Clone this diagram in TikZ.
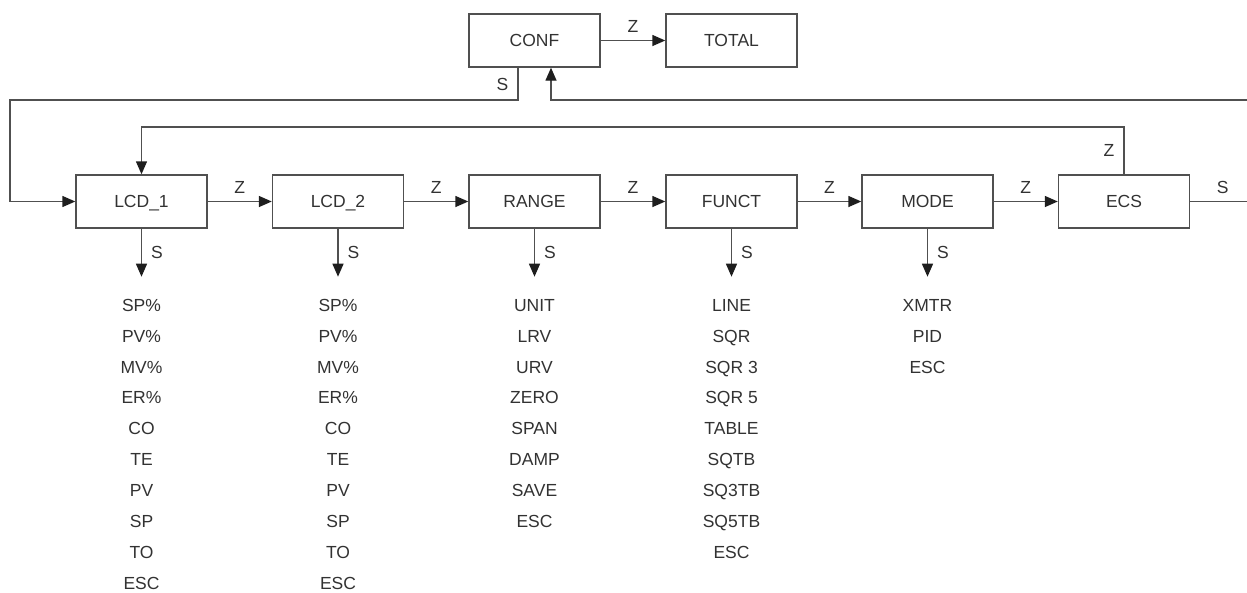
\documentclass[tikz,border=0pt]{standalone}
\usepackage{fontspec}
\setmainfont{Liberation Sans}
\usetikzlibrary{arrows.meta}
\definecolor{linec}{RGB}{80,80,80}
\definecolor{textc}{RGB}{50,50,50}
\definecolor{tipc}{RGB}{30,30,30}
\begin{document}
\begin{tikzpicture}[x=1pt,y=-1pt,
  txt/.style={text=textc, font=\fontsize{17.5}{20}\selectfont, inner sep=0pt, text height=12.5pt, text depth=0pt},
  box/.style={txt, draw=linec, line width=1.4pt, minimum width=131pt, minimum height=53pt},
  conn/.style={draw=linec, line width=1.4pt, -{Triangle[length=13pt,width=11pt,color=tipc]}},
  wire/.style={draw=linec, line width=1.4pt}]
\useasboundingbox (0,0) rectangle (1247,592);
% top boxes
\node[box] (conf) at (534.5,40.5) {CONF};
\node[box] (total) at (731.5,40.5) {TOTAL};
% main row
\node[box] (lcd1) at (141.5,201.5) {LCD\_1};
\node[box] (lcd2) at (338,201.5) {LCD\_2};
\node[box] (range) at (534.5,201.5) {RANGE};
\node[box] (funct) at (731.5,201.5) {FUNCT};
\node[box] (mode) at (927.5,201.5) {MODE};
\node[box] (ecs) at (1124,201.5) {ECS};
% free ends
\coordinate (eR) at (1247,201.5);
\coordinate (rR) at (1247,100);
\coordinate (sL) at (10,100);
% horizontal Z links
\draw[conn] (conf) -- node[txt, above=7pt] {Z} (total);
\draw[conn] (lcd1) -- node[txt, above=7pt] {Z} (lcd2);
\draw[conn] (lcd2) -- node[txt, above=7pt] {Z} (range);
\draw[conn] (range) -- node[txt, above=7pt] {Z} (funct);
\draw[conn] (funct) -- node[txt, above=7pt] {Z} (mode);
\draw[conn] (mode) -- node[txt, above=7pt] {Z} (ecs);
\draw[wire] (ecs) -- node[txt, above=7pt, xshift=4pt] {S} (eR);
% CONF S -> LCD_1
\draw[conn] ([xshift=-16.5pt]conf.south) |- node[txt, pos=0.25, left=9pt] {S} (sL) |- (lcd1.west);
% return into CONF
\draw[conn] (rR) -| ([xshift=16.5pt]conf.south);
% ECS Z loop to LCD_1
\draw[conn] (ecs.north) -- node[txt, left=9pt] {Z} (1124,127) -| (lcd1.north);
% S down arrows
\foreach \n in {lcd1,lcd2,range,funct,mode}{
  \coordinate (\n-e) at ([yshift=-48pt]\n.south);
  \draw[conn] (\n.south) -- node[txt, right=9pt] {S} (\n-e);
}
% lists
\foreach \t [count=\i] in {SP\%,PV\%,MV\%,ER\%,CO,TE,PV,SP,TO,ESC}{
  \node[txt] (la\i) at (141.5,{305+30.9*(\i-1)}) {\t};
  \node[txt] (lb\i) at (338,{305+30.9*(\i-1)}) {\t};
}
\foreach \t [count=\i] in {UNIT,LRV,URV,ZERO,SPAN,DAMP,SAVE,ESC}{
  \node[txt] (lr\i) at (534.5,{305+30.9*(\i-1)}) {\t};
}
\foreach \t [count=\i] in {LINE,SQR,SQR 3,SQR 5,TABLE,SQTB,SQ3TB,SQ5TB,ESC}{
  \node[txt] (lf\i) at (731.5,{305+30.9*(\i-1)}) {\t};
}
\foreach \t [count=\i] in {XMTR,PID,ESC}{
  \node[txt] (lm\i) at (927.5,{305+30.9*(\i-1)}) {\t};
}
\end{tikzpicture}
\end{document}
